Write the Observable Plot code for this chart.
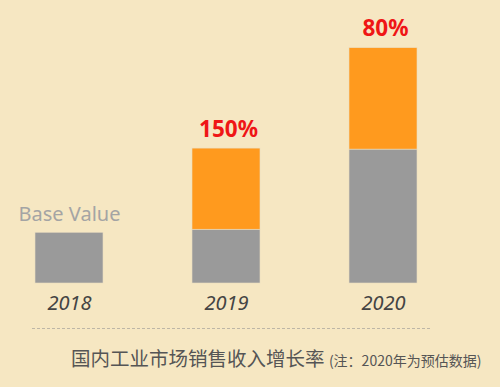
<!DOCTYPE html>
<html><head><meta charset="utf-8">
<script src="https://cdn.jsdelivr.net/npm/d3@7"></script>
<script src="https://cdn.jsdelivr.net/npm/@observablehq/plot@0.6"></script>
<style>
html,body{margin:0;padding:0;width:500px;height:387px;overflow:hidden;position:relative}
body{background:#f6e7c2}
#chart{position:absolute;left:0;top:0}
#rule{position:absolute;left:32px;top:328px;width:398px;border-top:1px dashed #bdb6a6}
#caption{position:absolute;left:71px;top:346px;font-family:"Noto Sans CJK SC";color:#555;font-size:19.5px;white-space:nowrap;line-height:1.2}
#caption small{font-size:14px}
</style></head><body>
<div id="chart"></div><div id="rule"></div>
<div id="caption">国内工业市场销售收入增长率 <small>(注：2020年为预估数据)</small></div>
<script>
const years = ["2018", "2019", "2020"];
const baseValues = [100, 106, 264];
const growthValues = [0, 160, 200];
const growthLabels = ["", "150%", "80%"];
const baseLabel = "Base Value";

const rows = [];
years.forEach((y, i) => {
  rows.push({year: y, part: "base", value: baseValues[i]});
  rows.push({year: y, part: "growth", value: growthValues[i]});
});
const totals = years.map((y, i) => ({year: y, total: baseValues[i] + growthValues[i], label: growthLabels[i]}));

const plot = Plot.plot({
  width: 500,
  height: 320,
  marginLeft: 0,
  marginRight: 48,
  marginTop: 0,
  marginBottom: 37,
  style: {background: "transparent", fontFamily: "'Noto Sans', sans-serif"},
  x: {domain: years, paddingInner: 0.57, paddingOuter: 0.2155, label: null},
  y: {domain: [0, 558], axis: null},
  color: {domain: ["base", "growth"], range: ["#9a9a9a", "#ff9a1e"]},
  marks: [
    Plot.barY(rows, {x: "year", y: "value", fill: "part", stroke: "#e9dcc0", strokeWidth: 0.6}),
    Plot.axisX({tickSize: 0, tickPadding: 12, fontSize: 20, fontStyle: "italic", fill: "#444", textStroke: null}),
    Plot.text(totals.filter(d => d.label), {x: "year", y: "total", text: "label", fill: "#ef1616", fontSize: 22.5, fontWeight: "bold", lineAnchor: "bottom", dy: -12, dx: 2}),
    Plot.text(totals.slice(0, 1), {x: "year", y: "total", text: () => baseLabel, fill: "#a4a4a4", fontSize: 20, lineAnchor: "bottom", dy: -12})
  ]
});
document.getElementById("chart").appendChild(plot);
</script>
</body></html>
